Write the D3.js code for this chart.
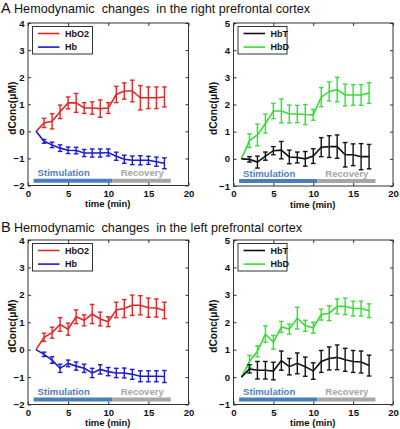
<!DOCTYPE html>
<html><head><meta charset="utf-8">
<script src="https://cdn.jsdelivr.net/npm/d3@7"></script>
<style>body{margin:0;background:#fff}svg{display:block;font-family:Arial,"Liberation Sans",sans-serif}</style>
</head><body><svg id="c" width="400" height="429"></svg>
<script>
const time = d3.range(1, 18);
const xTicks = [0, 5, 10, 15, 20];
const titleA = "Hemodynamic  changes  in the right prefrontal cortex";
const titleB = "Hemodynamic  changes  in the left prefrontal cortex";

// A (right PFC)
const A_HbO2 = [0,0.31,0.37,0.72,1.05,1.05,0.86,0.86,0.84,0.86,1.36,1.49,1.49,1.24,1.24,1.24,1.27];
const A_HbO2_err = [0,0.17,0.28,0.25,0.22,0.35,0.2,0.23,0.32,0.2,0.3,0.3,0.4,0.45,0.4,0.4,0.37];
const A_Hb = [0,-0.37,-0.5,-0.62,-0.7,-0.71,-0.8,-0.8,-0.8,-0.78,-0.92,-1.03,-1.07,-1.07,-1.07,-1.12,-1.18];
const A_Hb_err = [0,0.07,0.1,0.12,0.12,0.12,0.13,0.15,0.15,0.13,0.15,0.15,0.16,0.17,0.15,0.17,0.2];
const A_HbD = [0,0.67,0.88,1.3,1.76,1.76,1.65,1.65,1.63,1.62,2.27,2.48,2.55,2.35,2.35,2.35,2.42];
const A_HbD_err = [0,0.25,0.4,0.35,0.28,0.44,0.33,0.32,0.37,0.2,0.35,0.35,0.45,0.4,0.38,0.38,0.38];
const A_HbT = [0,-0.02,-0.12,0.1,0.3,0.32,0.07,0.05,0.0,0.1,0.43,0.45,0.45,0.15,0.15,0.08,0.08];
const A_HbT_err = [0,0.1,0.22,0.15,0.15,0.32,0.25,0.2,0.27,0.27,0.35,0.4,0.43,0.45,0.4,0.48,0.45];

// B (left PFC)
const B_HbO2 = [0,0.45,0.62,0.92,0.75,1.2,1.07,1.3,1.12,1.02,1.45,1.5,1.62,1.62,1.53,1.52,1.43];
const B_HbO2_err = [0,0.15,0.2,0.25,0.22,0.25,0.2,0.35,0.25,0.18,0.28,0.33,0.37,0.35,0.35,0.33,0.3];
const B_Hb = [0,-0.17,-0.38,-0.68,-0.5,-0.6,-0.68,-0.85,-0.72,-0.8,-0.85,-0.85,-0.9,-0.97,-0.97,-0.97,-0.98];
const B_Hb_err = [0,0.08,0.12,0.15,0.12,0.15,0.15,0.17,0.17,0.15,0.17,0.18,0.18,0.2,0.2,0.2,0.22];
const B_HbD = [0,0.57,0.94,1.57,1.27,1.83,1.75,2.15,1.87,1.8,2.28,2.33,2.58,2.58,2.5,2.5,2.42];
const B_HbD_err = [0,0.22,0.2,0.3,0.25,0.2,0.18,0.4,0.2,0.2,0.2,0.27,0.27,0.3,0.27,0.27,0.25];
const B_HbT = [0,0.3,0.25,0.25,0.22,0.6,0.38,0.5,0.38,0.22,0.57,0.68,0.72,0.63,0.57,0.55,0.42];
const B_HbT_err = [0,0.15,0.32,0.32,0.32,0.35,0.3,0.38,0.35,0.3,0.4,0.42,0.45,0.42,0.4,0.4,0.38];

const stimStart = 0.7, stimEnd = 10.5, recEnd = 17.8;

const svg = d3.select("#c");
const font = 'Arial,"Liberation Sans",sans-serif';

function title(y, letter, text, endX) {
  svg.append("text").attr("x", 1).attr("y", y).attr("font-size", 14.5).attr("fill", "#111")
    .attr("font-family", font).text(letter);
  svg.append("text").attr("x", 14).attr("y", y).attr("font-size", 12.6).attr("fill", "#111")
    .attr("font-family", font).attr("xml:space", "preserve")
    .attr("textLength", endX - 14).attr("lengthAdjust", "spacing").text(text);
}
title(12.5, "A", titleA, 310);
title(232, "B", titleB, 302);

function panel(opt) {
  const {x0, x1, y0, y1, ydom, series} = opt;
  const g = svg.append("g");
  const x = d3.scaleLinear().domain([0, 20]).range([x0, x1]);
  const y = d3.scaleLinear().domain(ydom).range([y1, y0]);
  const yTicks = d3.range(ydom[0], ydom[1] + 1);

  // stimulation / recovery bars
  const barY = y(ydom[0] + 0.18);
  g.append("line").attr("x1", x(stimStart)).attr("x2", x(stimEnd)).attr("y1", barY).attr("y2", barY)
    .attr("stroke", "#4a7ebb").attr("stroke-width", 4);
  g.append("line").attr("x1", x(stimEnd)).attr("x2", x(recEnd)).attr("y1", barY).attr("y2", barY)
    .attr("stroke", "#a6a6a6").attr("stroke-width", 4);
  g.append("text").attr("x", x(stimStart) + 4).attr("y", barY - 4.3).attr("font-size", 9.6).attr("font-weight", "bold")
    .attr("fill", "#4f81bd").attr("font-family", font).text("Stimulation");
  g.append("text").attr("x", x(recEnd) - 7).attr("y", barY - 4.3).attr("font-size", 9.6).attr("font-weight", "bold")
    .attr("fill", "#a6a6a6").attr("text-anchor", "end").attr("font-family", font).text("Recovery");

  // series
  series.forEach(s => {
    const pts = time.map((t, i) => ({t, v: s.vals[i], e: s.err[i]}));
    g.append("path").datum(pts).attr("fill", "none").attr("stroke", s.color).attr("stroke-width", 1.6)
      .attr("d", d3.line().x(d => x(d.t)).y(d => y(d.v)));
    const eb = g.append("g").attr("stroke", s.color).attr("stroke-width", 1.4);
    pts.filter(d => d.e > 0).forEach(d => {
      const cx = x(d.t);
      eb.append("line").attr("x1", cx).attr("x2", cx).attr("y1", y(d.v - d.e)).attr("y2", y(d.v + d.e));
      eb.append("line").attr("x1", cx - 2.3).attr("x2", cx + 2.3).attr("y1", y(d.v - d.e)).attr("y2", y(d.v - d.e));
      eb.append("line").attr("x1", cx - 2.3).attr("x2", cx + 2.3).attr("y1", y(d.v + d.e)).attr("y2", y(d.v + d.e));
    });
  });

  // box & axes
  g.append("rect").attr("x", x0).attr("y", y0).attr("width", x1 - x0).attr("height", y1 - y0)
    .attr("fill", "none").attr("stroke", "#333").attr("stroke-width", 1);
  const axB = d3.axisBottom(x).tickValues(xTicks).tickSize(-3).tickPadding(4.3).tickFormat(d3.format("d"));
  const axT = d3.axisTop(x).tickValues(xTicks).tickSize(-3).tickFormat("");
  const axL = d3.axisLeft(y).tickValues(yTicks).tickSize(-3).tickPadding(3.5).tickFormat(d3.format("d"));
  const axR = d3.axisRight(y).tickValues(yTicks).tickSize(-3).tickFormat("");
  [[axB, `translate(0,${y1})`], [axT, `translate(0,${y0})`], [axL, `translate(${x0},0)`], [axR, `translate(${x1},0)`]]
    .forEach(([ax, tr]) => {
      const a = g.append("g").attr("transform", tr).call(ax);
      a.select(".domain").remove();
      a.selectAll("line").attr("stroke", "#333");
      a.selectAll("text").attr("font-size", 9.6).attr("font-weight", "bold").attr("fill", "#111").attr("font-family", font);
    });

  // legend
  const lx = x0 + 4.5, ly = y0 + 3.5, lw = opt.legW, lh = 27.5;
  g.append("rect").attr("x", lx).attr("y", ly).attr("width", lw).attr("height", lh)
    .attr("fill", "#fff").attr("stroke", "#333").attr("stroke-width", 1);
  series.slice().sort((a, b) => a.order - b.order).forEach((s, i) => {
    const yy = ly + 7 + i * 13.6;
    g.append("line").attr("x1", lx + 5.5).attr("x2", lx + 27).attr("y1", yy).attr("y2", yy)
      .attr("stroke", s.color).attr("stroke-width", 1.6);
    g.append("text").attr("x", lx + 32.5).attr("y", yy + 3.3).attr("font-size", 9).attr("font-weight", "bold")
      .attr("fill", "#111").attr("font-family", font).text(s.name);
  });

  // axis labels
  g.append("text").attr("x", (x0 + x1) / 2 - 0.5).attr("y", y1 + 21.5).attr("text-anchor", "middle")
    .attr("font-size", 9.5).attr("font-weight", "bold").attr("fill", "#111").attr("font-family", font).text("time (min)");
  g.append("text").attr("transform", `translate(${x0 - opt.ylabOff},${(y0 + y1) / 2 + 4}) rotate(-90)`).attr("text-anchor", "middle")
    .attr("font-size", 10.2).attr("font-weight", "bold").attr("fill", "#111").attr("font-family", font).text("dConc(μM)");
}

const RED = "#e42626", BLUE = "#1c1cd0", BLACK = "#111", GREEN = "#33e033";

panel({x0: 28, x1: 188.5, y0: 23, y1: 185.5, ydom: [-2, 4], legW: 60, ylabOff: 12.5,
  series: [{name: "HbO2", vals: A_HbO2, err: A_HbO2_err, color: RED, order: 0},
           {name: "Hb", vals: A_Hb, err: A_Hb_err, color: BLUE, order: 1}]});
panel({x0: 233.5, x1: 393, y0: 23, y1: 186, ydom: [-1, 5], legW: 49, ylabOff: 16.5,
  series: [{name: "HbD", vals: A_HbD, err: A_HbD_err, color: GREEN, order: 1},
           {name: "HbT", vals: A_HbT, err: A_HbT_err, color: BLACK, order: 0}]});
panel({x0: 28, x1: 188.5, y0: 240, y1: 404.5, ydom: [-2, 4], legW: 60, ylabOff: 12.5,
  series: [{name: "HbO2", vals: B_HbO2, err: B_HbO2_err, color: RED, order: 0},
           {name: "Hb", vals: B_Hb, err: B_Hb_err, color: BLUE, order: 1}]});
panel({x0: 233.5, x1: 393, y0: 240, y1: 404.5, ydom: [-1, 5], legW: 49, ylabOff: 16.5,
  series: [{name: "HbD", vals: B_HbD, err: B_HbD_err, color: GREEN, order: 1},
           {name: "HbT", vals: B_HbT, err: B_HbT_err, color: BLACK, order: 0}]});
</script></body></html>
